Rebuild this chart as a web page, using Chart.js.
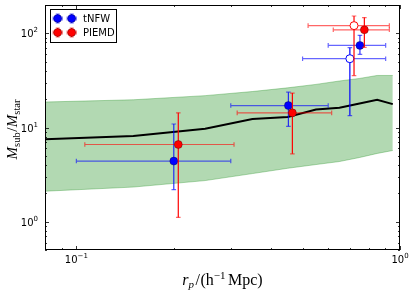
<!DOCTYPE html>
<html><head><meta charset="utf-8">
<script src="https://cdn.jsdelivr.net/npm/chart.js@4.4.1/dist/chart.umd.min.js"></script>
<style>html,body{margin:0;padding:0;background:#fff;}#wrap{width:415px;height:292px;position:relative;}</style>
</head><body><div id="wrap"><canvas id="c" width="415" height="292"></canvas></div>
<script>
// ---- data ----
const binR        = [0.05, 0.15, 0.25, 0.35, 0.45, 0.55, 0.65, 0.75, 0.85, 0.95];
const medianRatio = [7.1, 8.1, 9.7, 12.3, 12.9, 15.5, 16.2, 18.0, 19.7, 17.7];
const bandUpper   = [17.9, 19.7, 21.8, 24.1, 26.4, 28.7, 31.2, 33.2, 35.7, 35.7];
const bandLower   = [1.95, 2.33, 2.73, 3.24, 3.69, 4.04, 4.35, 4.8, 5.3, 5.7];

const tnfwR   = [0.200, 0.452, 0.752];
const tnfwRLo = [0.100, 0.300, 0.600];
const tnfwRHi = [0.300, 0.600, 0.903];
const tnfwM   = [4.4, 17.1, 74.5];
const tnfwMLo = [2.19, 10.3, 59.8];
const tnfwMHi = [10.9, 23.7, 95.2];

const tnfwOpenR   = [0.700];
const tnfwOpenRLo = [0.500];
const tnfwOpenRHi = [0.903];
const tnfwOpenM   = [53.8];
const tnfwOpenMLo = [13.4];
const tnfwOpenMHi = [70.4];

const piemdR   = [0.2065, 0.465, 0.776];
const piemdRLo = [0.1062, 0.314, 0.622];
const piemdRHi = [0.307, 0.615, 0.927];
const piemdM   = [6.6, 14.3, 109];
const piemdMLo = [1.11, 5.25, 71];
const piemdMHi = [14.3, 23.2, 147];

const piemdOpenR   = [0.721];
const piemdOpenRLo = [0.520];
const piemdOpenRHi = [0.927];
const piemdOpenM   = [120.8];
const piemdOpenMLo = [35.6];
const piemdOpenMHi = [152.8];

const xTickVals = [0.1, 1];
const xTickExp  = ['\u22121', '0'];
const yTickVals = [1, 10, 100];
const yTickExp  = ['0', '1', '2'];
const seriesNames = ['tNFW', 'PIEMD'];

// ---- helpers ----
const pts = (xs, ys) => xs.map((x, i) => ({x: x, y: ys[i]}));
function errSet(xs, xlo, xhi, ys, ylo, yhi) {
  return xs.map((x, i) => ({x: x, xlo: xlo[i], xhi: xhi[i], y: ys[i], ylo: ylo[i], yhi: yhi[i]}));
}
const BLUE_V = 'rgba(0,0,255,0.8)', BLUE_H = 'rgba(0,0,255,0.6)';
const RED_V = 'rgba(255,0,0,1)', RED_H = 'rgba(255,0,0,0.6)';
const MR = 4;

function markerDs(label, xs, ys, fill, edge, ew, err, vcol, hcol, order) {
  return {
    type: 'scatter', label: label, data: pts(xs, ys), order: order,
    pointRadius: MR, pointHoverRadius: MR,
    backgroundColor: fill, borderColor: edge, pointBorderWidth: ew, borderWidth: ew,
    showLine: false, err: err, vcol: vcol, hcol: hcol
  };
}

function drawErr(ctx, xs, ys, e, vcol, hcol) {
  const cap = 2.3;
  ctx.save();
  ctx.lineWidth = 1.2;
  e.forEach(p => {
    const x = xs.getPixelForValue(p.x), y = ys.getPixelForValue(p.y);
    const x0 = xs.getPixelForValue(p.xlo), x1 = xs.getPixelForValue(p.xhi);
    const y0 = ys.getPixelForValue(p.ylo), y1 = ys.getPixelForValue(p.yhi);
    ctx.strokeStyle = hcol;
    ctx.beginPath();
    ctx.moveTo(x0, y); ctx.lineTo(x1, y);
    ctx.moveTo(x0, y - cap); ctx.lineTo(x0, y + cap);
    ctx.moveTo(x1, y - cap); ctx.lineTo(x1, y + cap);
    ctx.stroke();
    ctx.strokeStyle = vcol;
    ctx.beginPath();
    ctx.moveTo(x, y0); ctx.lineTo(x, y1);
    ctx.stroke();
    ctx.strokeStyle = hcol;
    ctx.beginPath();
    ctx.moveTo(x - cap, y0); ctx.lineTo(x + cap, y0);
    ctx.moveTo(x - cap, y1); ctx.lineTo(x + cap, y1);
    ctx.stroke();
  });
  ctx.restore();
}

function drawRuns(ctx, runs, cx, baseY) {
  let w = 0;
  runs.forEach(r => { ctx.font = r.f; r.w = ctx.measureText(r.t).width; w += r.w + (r.gap || 0); });
  let x = cx - w / 2;
  ctx.textBaseline = 'alphabetic';
  ctx.textAlign = 'left';
  runs.forEach(r => { ctx.font = r.f; ctx.fillText(r.t, x, baseY + (r.dy || 0)); x += r.w + (r.gap || 0); });
}

const SF = '"DejaVu Sans", sans-serif';
const MF = '"Liberation Serif", serif';

const decor = {
  id: 'decor',
  beforeDatasetDraw(chart, args) {
    const ds = chart.data.datasets[args.index];
    if (ds.err) drawErr(chart.ctx, chart.scales.x, chart.scales.y, ds.err, ds.vcol, ds.hcol);
  },
  afterDraw(chart) {
    const ctx = chart.ctx, a = chart.chartArea, xs = chart.scales.x, ys = chart.scales.y;
    ctx.save();
    // frame
    ctx.strokeStyle = '#000'; ctx.lineWidth = 1;
    ctx.strokeRect(Math.round(a.left) + 0.5, Math.round(a.top) + 0.5, Math.round(a.right - a.left) - 1, Math.round(a.bottom - a.top) - 1);
    // ticks
    ctx.lineWidth = 0.8;
    ctx.beginPath();
    const xmin = xs.min, xmax = xs.max, ymin = ys.min, ymax = ys.max;
    for (let d = -2; d <= 0; d++) for (let m = 1; m <= 9; m++) {
      const v = m * Math.pow(10, d);
      if (v < xmin - 1e-9 || v > xmax + 1e-9) continue;
      const px = Math.round(xs.getPixelForValue(v)) + 0.5, L = m === 1 ? 4 : 2;
      ctx.moveTo(px, a.bottom); ctx.lineTo(px, a.bottom - L);
      ctx.moveTo(px, a.top); ctx.lineTo(px, a.top + L);
    }
    for (let d = -1; d <= 2; d++) for (let m = 1; m <= 9; m++) {
      const v = m * Math.pow(10, d);
      if (v < ymin - 1e-9 || v > ymax + 1e-9) continue;
      const py = Math.round(ys.getPixelForValue(v)) + 0.5, L = m === 1 ? 4 : 2;
      ctx.moveTo(a.left, py); ctx.lineTo(a.left + L, py);
      ctx.moveTo(a.right, py); ctx.lineTo(a.right - L, py);
    }
    ctx.stroke();
    // tick labels
    ctx.fillStyle = '#000';
    xTickVals.forEach((v, i) => {
      const px = xs.getPixelForValue(v);
      drawRuns(ctx, [{t: '10', f: '10px ' + SF}, {t: xTickExp[i], f: '7px ' + SF, dy: -5}], px, a.bottom + 13);
    });
    yTickVals.forEach((v, i) => {
      const py = ys.getPixelForValue(v);
      ctx.font = '7px ' + SF; const we = ctx.measureText(yTickExp[i]).width;
      ctx.font = '10px ' + SF; const wb = ctx.measureText('10').width;
      const right = a.left - 7;
      ctx.textAlign = 'left'; ctx.textBaseline = 'alphabetic';
      ctx.fillText('10', right - we - wb, py + 4);
      ctx.font = '7px ' + SF; ctx.fillText(yTickExp[i], right - we, py - 1);
    });
    // x title
    drawRuns(ctx, [
      {t: 'r', f: 'italic 16px ' + MF},
      {t: 'p', f: 'italic 11px ' + MF, dy: 3, gap: 1.5},
      {t: '/', f: '16px ' + MF, gap: 0.5},
      {t: '(h', f: '16px ' + MF},
      {t: '\u22121', f: '11px ' + MF, dy: -6, gap: 2.5},
      {t: 'Mpc)', f: '16px ' + MF}
    ], (a.left + a.right) / 2, 285);
    // y title
    ctx.save();
    ctx.translate(17, (a.top + a.bottom) / 2 + 2);
    ctx.rotate(-Math.PI / 2);
    drawRuns(ctx, [
      {t: 'M', f: 'italic 15px ' + MF},
      {t: 'sub', f: '10.5px ' + MF, dy: 3, gap: 0.5},
      {t: '/', f: '15px ' + MF, gap: 0.5},
      {t: 'M', f: 'italic 15px ' + MF},
      {t: 'star', f: '10.5px ' + MF, dy: 3}
    ], 0, 0);
    ctx.restore();
    // legend
    ctx.fillStyle = 'rgba(255,255,255,1)';
    ctx.fillRect(50.5, 9.5, 66, 33);
    ctx.strokeStyle = '#000'; ctx.lineWidth = 1;
    ctx.strokeRect(50.5, 9.5, 66, 33);
    const legRows = [{y: 18.5, v: BLUE_V, h: BLUE_H, c: 'rgb(0,0,255)'}, {y: 32.5, v: RED_V, h: RED_H, c: 'rgb(255,0,0)'}];
    legRows.forEach((r, i) => {
      [57.7, 71.7].forEach(mx => {
        ctx.lineWidth = 1.2;
        ctx.strokeStyle = r.h;
        ctx.beginPath();
        ctx.moveTo(mx - 4.5, r.y); ctx.lineTo(mx + 4.5, r.y);
        ctx.moveTo(mx - 4.5, r.y - 2); ctx.lineTo(mx - 4.5, r.y + 2);
        ctx.moveTo(mx + 4.5, r.y - 2); ctx.lineTo(mx + 4.5, r.y + 2);
        ctx.moveTo(mx - 2, r.y - 4.5); ctx.lineTo(mx + 2, r.y - 4.5);
        ctx.moveTo(mx - 2, r.y + 4.5); ctx.lineTo(mx + 2, r.y + 4.5);
        ctx.stroke();
        ctx.strokeStyle = r.v;
        ctx.beginPath(); ctx.moveTo(mx, r.y - 4.5); ctx.lineTo(mx, r.y + 4.5); ctx.stroke();
        ctx.fillStyle = r.c;
        ctx.beginPath(); ctx.arc(mx, r.y, MR, 0, Math.PI * 2); ctx.fill();
        ctx.lineWidth = 0.5; ctx.strokeStyle = 'rgba(0,0,0,0.6)'; ctx.stroke();
      });
      ctx.fillStyle = '#000';
      ctx.font = '10px ' + SF; ctx.textAlign = 'left'; ctx.textBaseline = 'middle';
      ctx.fillText(seriesNames[i], 83, r.y + 0.5);
    });
    ctx.restore();
  }
};

const datasets = [
  {type: 'line', label: 'upper', data: pts(binR, bandUpper), fill: '+1', order: 10,
   backgroundColor: 'rgba(0,128,0,0.3)', borderColor: 'rgba(0,128,0,0.3)', borderWidth: 1, pointRadius: 0, tension: 0},
  {type: 'line', label: 'lower', data: pts(binR, bandLower), fill: false, order: 11,
   borderColor: 'rgba(0,128,0,0.3)', borderWidth: 1, pointRadius: 0, tension: 0},
  {type: 'line', label: 'median', data: pts(binR, medianRatio), fill: false, order: 8,
   borderColor: '#000', borderWidth: 2, pointRadius: 0, tension: 0},
  markerDs('tNFW', tnfwR, tnfwM, 'rgb(0,0,255)', 'rgba(0,0,0,0.6)', 0.5,
    errSet(tnfwR, tnfwRLo, tnfwRHi, tnfwM, tnfwMLo, tnfwMHi), BLUE_V, BLUE_H, 4),
  markerDs('PIEMD', piemdR, piemdM, 'rgb(255,0,0)', 'rgba(0,0,0,0.6)', 0.5,
    errSet(piemdR, piemdRLo, piemdRHi, piemdM, piemdMLo, piemdMHi), RED_V, RED_H, 3),
  markerDs('tNFW open', tnfwOpenR, tnfwOpenM, '#fff', 'rgb(0,0,255)', 1,
    errSet(tnfwOpenR, tnfwOpenRLo, tnfwOpenRHi, tnfwOpenM, tnfwOpenMLo, tnfwOpenMHi), 'rgb(0,0,255)', BLUE_H, 2),
  markerDs('PIEMD open', piemdOpenR, piemdOpenM, '#fff', 'rgb(255,0,0)', 1,
    errSet(piemdOpenR, piemdOpenRLo, piemdOpenRHi, piemdOpenM, piemdOpenMLo, piemdOpenMHi), RED_V, RED_H, 1)
];

new Chart(document.getElementById('c'), {
  type: 'line',
  data: {datasets: datasets},
  options: {
    responsive: false, animation: false, devicePixelRatio: 1,
    layout: {padding: {left: 0, right: 15, top: 5, bottom: 0}},
    plugins: {legend: {display: false}, tooltip: {enabled: false}},
    scales: {
      x: {type: 'logarithmic', min: 0.08, max: 1.0,
          ticks: {display: false}, grid: {display: false}, border: {display: false},
          afterFit(s) { s.height = 42; }},
      y: {type: 'logarithmic', min: 0.5, max: 200,
          ticks: {display: false}, grid: {display: false}, border: {display: false},
          afterFit(s) { s.width = 45; }}
    }
  },
  plugins: [decor]
});
</script></body></html>
